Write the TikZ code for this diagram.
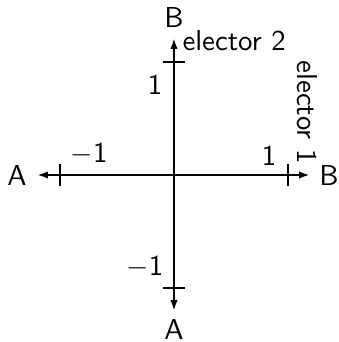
\documentclass[tikz,border=0pt]{standalone}
\usetikzlibrary{arrows.meta}
\begin{document}
\begin{tikzpicture}[x=0.3472pt,y=-0.3472pt,
  font=\sffamily,
  axis/.style={line width=0.4pt,{Latex[length=3.4pt,width=2.5pt]}-{Latex[length=3.4pt,width=2.5pt]}},
  tick/.style={line width=0.4pt},
  lbl/.style={inner sep=0pt}]
\useasboundingbox (0,0) rectangle (339,342);
\coordinate (O) at (174,175);
\coordinate (xl) at (38,175);
\coordinate (xr) at (309,175);
\coordinate (yt) at (174,39);
\coordinate (yb) at (174,310);
\draw[axis] (xl) -- (xr);
\draw[axis] (yb) -- (yt);
% ticks
\coordinate (tl) at (60,175);
\coordinate (tr) at (288,175);
\coordinate (tt) at (174,62);
\coordinate (tb) at (174,288);
\draw[tick] ([yshift=-11*0.3472pt]tl) -- ([yshift=11*0.3472pt]tl);
\draw[tick] ([yshift=-11*0.3472pt]tr) -- ([yshift=11*0.3472pt]tr);
\draw[tick] ([xshift=-11*0.3472pt]tt) -- ([xshift=11*0.3472pt]tt);
\draw[tick] ([xshift=-11*0.3472pt]tb) -- ([xshift=11*0.3472pt]tb);
% tick labels
\node[lbl] (ml) at (89,154) {$-$1};
\node[lbl] (pr) at (269,156) {1};
\node[lbl] (pt) at (155,85) {1};
\node[lbl] (mb) at (145,267) {$-$1};
% end labels
\node[lbl] (A1) at (17,175) {A};
\node[lbl] (B1) at (329,175) {B};
\node[lbl] (B2) at (174,18) {B};
\node[lbl] (A2) at (174,330) {A};
% axis names
\node[lbl,anchor=base west] (s2) at (182,50) {elector 2};
\node[lbl,anchor=base west,rotate=-90] (s1) at (298,60) {elector 1};
\end{tikzpicture}
\end{document}
